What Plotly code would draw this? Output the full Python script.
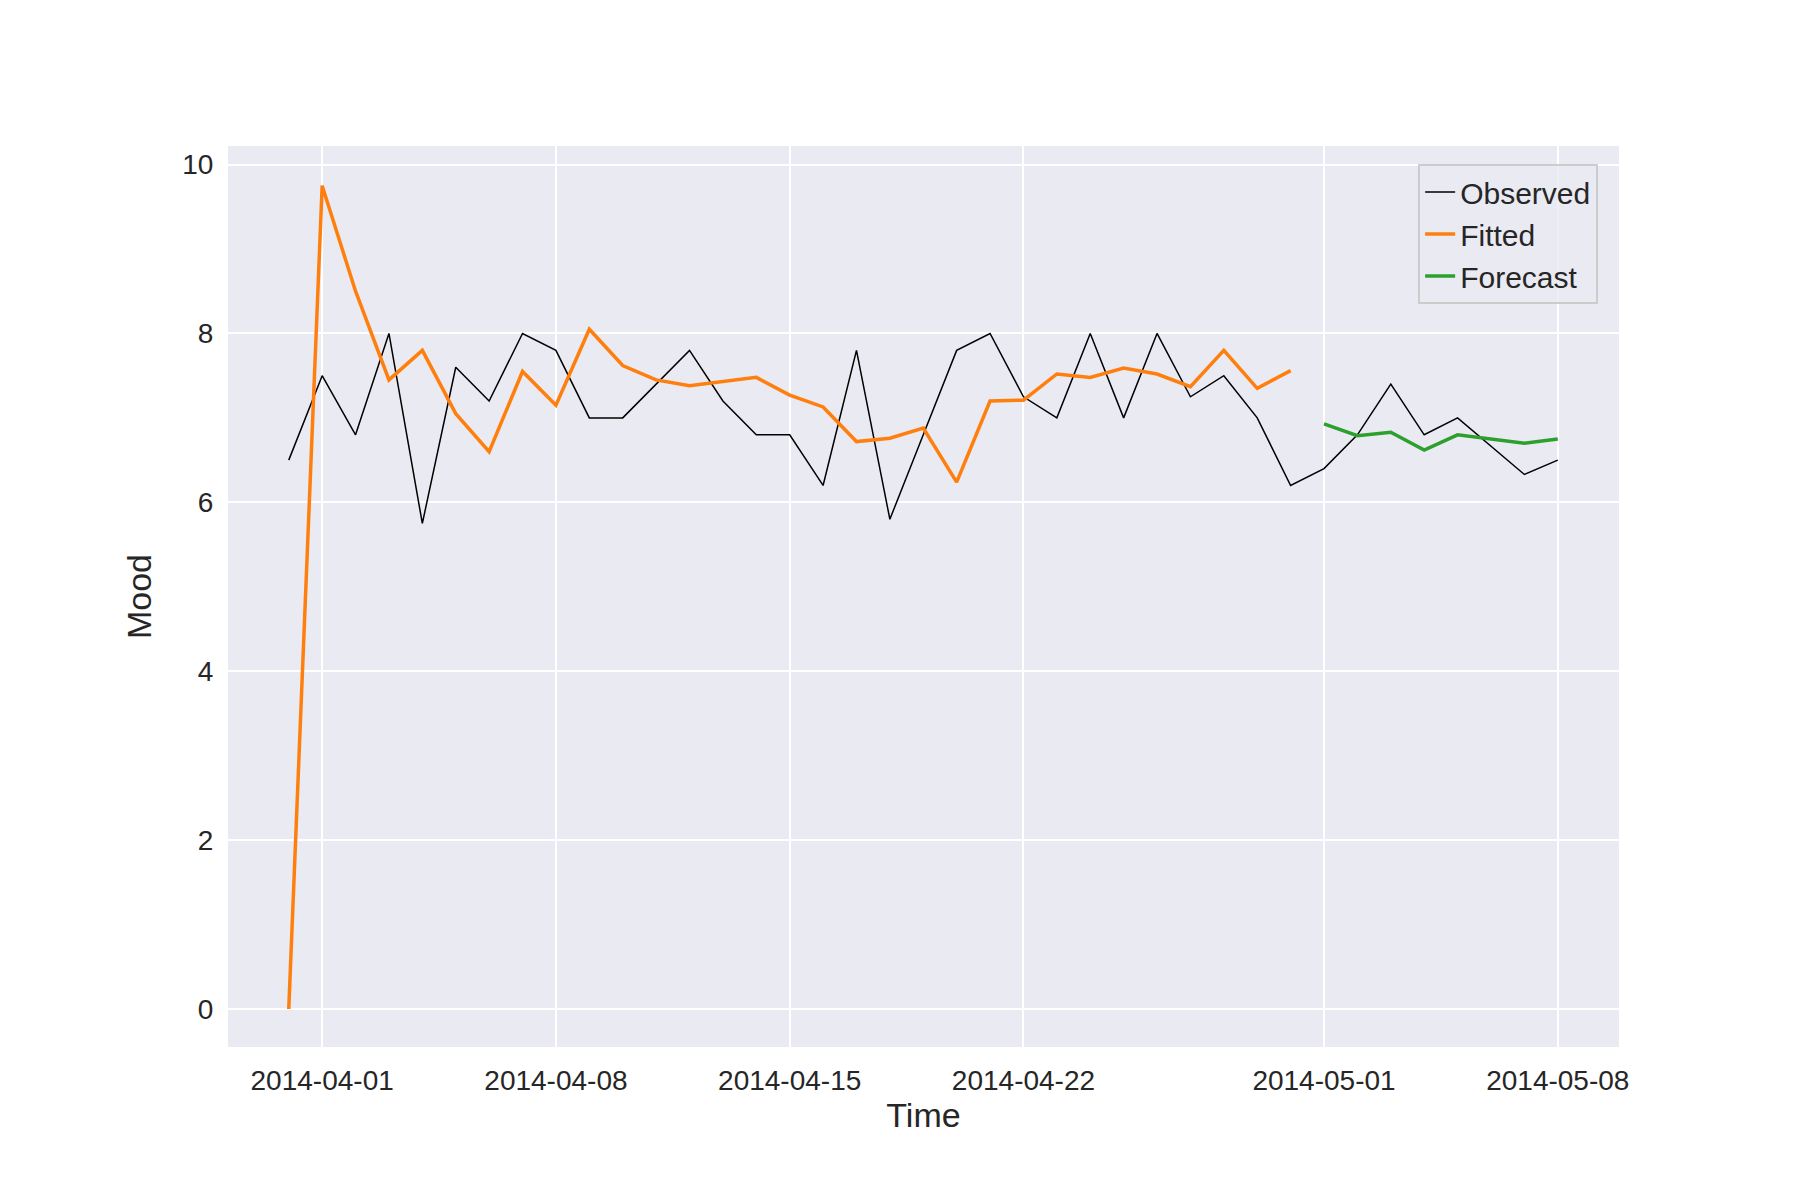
import pandas as pd
import plotly.graph_objects as go

obs_dates = pd.date_range("2014-03-31", "2014-05-08", freq="D")
observed = [6.5, 7.5, 6.8, 8.0, 5.75, 7.6, 7.2, 8.0, 7.8, 7.0, 7.0, 7.4, 7.8, 7.2,
            6.8, 6.8, 6.2, 7.8, 5.8, 6.8, 7.8, 8.0, 7.25, 7.0, 8.0, 7.0, 8.0, 7.25,
            7.5, 7.0, 6.2, 6.4, 6.8, 7.4, 6.8, 7.0, 6.67, 6.33, 6.5]

fit_dates = pd.date_range("2014-03-31", "2014-04-30", freq="D")
fitted = [0.0, 9.75, 8.5, 7.45, 7.8, 7.05, 6.6, 7.55, 7.15, 8.05, 7.62, 7.45, 7.38,
          7.43, 7.48, 7.27, 7.13, 6.72, 6.76, 6.88, 6.24, 7.2, 7.21, 7.52, 7.48,
          7.59, 7.52, 7.37, 7.8, 7.35, 7.56]

fc_dates = pd.date_range("2014-05-01", "2014-05-08", freq="D")
forecast = [6.93, 6.79, 6.83, 6.62, 6.8, 6.75, 6.7, 6.75]

tick_dates = ["2014-04-01", "2014-04-08", "2014-04-15", "2014-04-22", "2014-05-01", "2014-05-08"]

fig = go.Figure()
fig.add_trace(go.Scatter(x=obs_dates, y=observed, mode="lines", name="Observed",
                         line=dict(color="black", width=1.5)))
fig.add_trace(go.Scatter(x=fit_dates, y=fitted, mode="lines", name="Fitted",
                         line=dict(color="#ff7f0e", width=3.5)))
fig.add_trace(go.Scatter(x=fc_dates, y=forecast, mode="lines", name="Forecast",
                         line=dict(color="#2ca02c", width=3.5)))

fig.update_layout(
    width=1800, height=1200,
    paper_bgcolor="white", plot_bgcolor="#EAEAF2",
    font=dict(family="Liberation Sans, Arial", size=28, color="#262626"),
    margin=dict(l=220, r=189, t=138, b=161),
    showlegend=True,
    legend=dict(x=0.985, y=0.98, xanchor="right", yanchor="top",
                bgcolor="rgba(234,234,242,0.8)", bordercolor="#cccccc", borderwidth=2,
                font=dict(size=30)),
    xaxis=dict(title=dict(text="Time", standoff=8), range=["2014-03-29 04:20", "2014-05-09 20:00"],
               tickvals=tick_dates, ticktext=tick_dates, gridcolor="white", gridwidth=2,
               zeroline=False, showline=False, ticks="outside", ticklen=8, tickcolor="rgba(0,0,0,0)"),
    yaxis=dict(title=dict(text="Mood", standoff=20), range=[-0.45, 10.22], tickvals=[0, 2, 4, 6, 8, 10],
               gridcolor="white", gridwidth=2, zeroline=False, showline=False,
               ticks="outside", ticklen=8, tickcolor="rgba(0,0,0,0)"),
)

fig.write_html("out.html")
